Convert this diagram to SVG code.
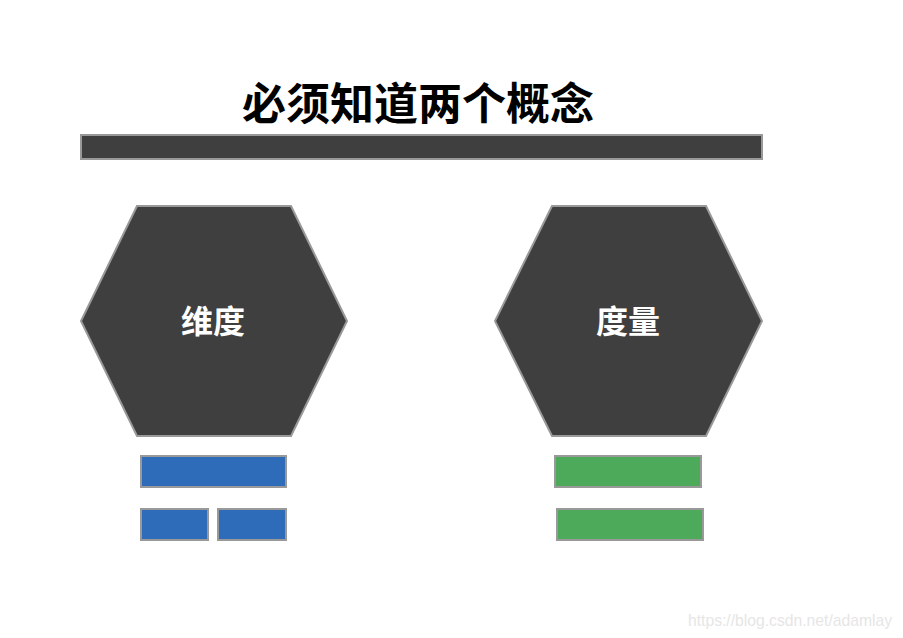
<svg xmlns="http://www.w3.org/2000/svg" width="903" height="638" viewBox="0 0 903 638">
<style>
.dark{fill:#3f3f3f;stroke:#999;stroke-width:2}
.blue{fill:#2e6bb8;stroke:#999;stroke-width:2}
.green{fill:#4daa5a;stroke:#999;stroke-width:2}
.title{font-family:"Noto Sans CJK SC","Noto Sans",sans-serif;font-weight:bold;font-size:44px;fill:#000}
.hex{font-family:"Noto Sans CJK SC","Noto Sans",sans-serif;font-weight:bold;font-size:32px;fill:#fff}
.wm{font-family:"Liberation Sans",Arial,sans-serif;font-size:15.7px;fill:#e6e6e6}
</style>
<rect width="903" height="638" fill="#fff"/>
<g id="title">
<text class="title" x="418" y="120" text-anchor="middle">必须知道两个概念</text>
<rect class="dark" x="81" y="135" width="681" height="24"/>
</g>
<g id="node-dimension">
<polygon class="dark" points="137,206 291,206 347,321 291,436 137,436 81,321"/>
<text class="hex" x="213" y="333" text-anchor="middle">维度</text>
</g>
<g id="node-measure">
<polygon class="dark" points="552,206 706,206 762,321 706,436 552,436 495,321"/>
<text class="hex" x="628" y="333" text-anchor="middle">度量</text>
</g>
<g id="blue-bars">
<rect class="blue" x="141" y="456" width="145" height="31"/>
<rect class="blue" x="141" y="509" width="67" height="31"/>
<rect class="blue" x="218" y="509" width="68" height="31"/>
</g>
<g id="green-bars">
<rect class="green" x="555" y="456" width="146" height="31"/>
<rect class="green" x="557" y="509" width="146" height="31"/>
</g>
<g id="connectors"></g>
<text class="wm" x="688" y="626">https://blog.csdn.net/adamlay</text>
</svg>
